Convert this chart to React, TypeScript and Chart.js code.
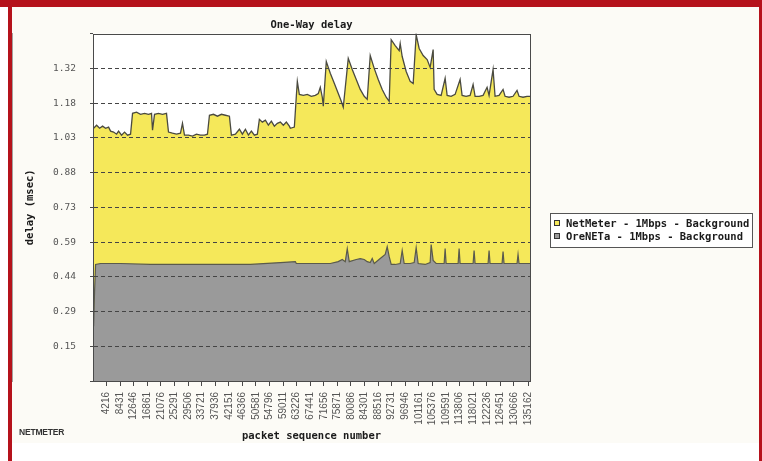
import React, { useEffect, useRef } from 'react';
import { Chart, registerables } from 'chart.js';

Chart.register(...registerables);

const chartTitle = 'One-Way delay';
const xAxisTitle = 'packet sequence number';
const yAxisTitle = 'delay (msec)';
const seriesLabels = ['NetMeter - 1Mbps - Background', 'OreNETa - 1Mbps - Background'];
const footerText = 'NETMETER';

const xTickValues = [
  4216, 8431, 12646, 16861, 21076, 25291, 29506, 33721, 37936, 42151, 46366, 50581,
  54796, 59011, 63226, 67441, 71656, 75871, 80086, 84301, 88516, 92731, 96946, 101161,
  105376, 109591, 113806, 118021, 122236, 126451, 130666, 135162,
];
const xMin = 0;
const xMax = 135650;

const yTickValues = [0, 0.1467, 0.2933, 0.44, 0.5867, 0.7333, 0.88, 1.0267, 1.1733, 1.32, 1.4667];
const yTickLabels = ['', '0.15', '0.29', '0.44', '0.59', '0.73', '0.88', '1.03', '1.18', '1.32', ''];

const netmeterSeq = [
  190, 1116, 2046, 2976, 3906, 4836, 5456, 6386, 7316, 7936, 8866, 9796, 10726, 11656,
  12276, 13516, 14756, 15996, 17236, 18166, 18476, 19096, 20336, 21576, 22816, 23436,
  24676, 25916, 27156, 27776, 28396, 29636, 30876, 32116, 33356, 34596, 35526, 36146,
  37386, 38626, 39866, 41106, 42346, 42966, 44206, 45446, 46376, 47306, 48236, 49166,
  50096, 51026, 51646, 52576, 53506, 54436, 55366, 56296, 57226, 58156, 59086, 60016,
  60946, 61256, 62500, 63116, 63426, 64046, 65286, 66526, 67766, 69006, 69936, 70556,
  71176, 71486, 72416, 73656, 74896, 76136, 77066, 77686, 79236, 80476, 81716, 82956,
  84196, 85126, 86056, 87296, 88536, 89776, 91016, 91946, 92566, 93806, 95046, 95356,
  95976, 97216, 98456, 99386, 100316, 101246, 102486, 103726, 104656, 105586, 105896,
  106826, 108066, 109306, 109926, 111166, 112406, 113956, 114576, 115816, 117056, 117986,
  118606, 119846, 121086, 122326, 122946, 124186, 124806, 126046, 127286, 127906, 129146,
  130386, 131626, 132246, 133486, 134726, 135650,
];
const netmeterDelay = [
  1.067, 1.080, 1.067, 1.076, 1.067, 1.072, 1.055, 1.051, 1.042, 1.055, 1.038, 1.051, 1.038, 1.042,
  1.130, 1.135, 1.126, 1.130, 1.126, 1.130, 1.059, 1.126, 1.130, 1.126, 1.130, 1.051,
  1.046, 1.042, 1.046, 1.088, 1.038, 1.038, 1.034, 1.042, 1.038, 1.038, 1.042, 1.122,
  1.126, 1.118, 1.126, 1.122, 1.118, 1.038, 1.042, 1.063, 1.042, 1.063, 1.038, 1.055,
  1.038, 1.042, 1.105, 1.093, 1.101, 1.080, 1.097, 1.076, 1.088, 1.093, 1.080, 1.093,
  1.076, 1.067, 1.072, 1.202, 1.265, 1.210, 1.206, 1.210, 1.202, 1.206, 1.214, 1.240,
  1.198, 1.160, 1.349, 1.299, 1.257, 1.214, 1.181, 1.156, 1.362, 1.315, 1.273, 1.231,
  1.202, 1.189, 1.374, 1.320, 1.273, 1.231, 1.198, 1.181, 1.441, 1.416, 1.395, 1.425,
  1.370, 1.307, 1.265, 1.256, 1.462, 1.404, 1.374, 1.357, 1.324, 1.399, 1.231,
  1.210, 1.206, 1.278, 1.206, 1.202, 1.210, 1.273, 1.206, 1.202, 1.206, 1.252,
  1.202, 1.202, 1.206, 1.240, 1.206, 1.315, 1.202, 1.206, 1.231, 1.202, 1.198,
  1.202, 1.227, 1.202, 1.198, 1.202, 1.202,
];

const orenetaSeq = [
  186, 496, 806, 2356, 8556, 17856, 33356, 48856, 58156, 62806, 63116, 73656, 76136,
  77376, 78306, 78926, 79546, 81716, 82956, 84196, 85126, 86056, 86676, 87296, 89156,
  90706, 91326, 91946, 92566, 93806, 95356, 95976, 96596, 98456, 99696, 100316, 100936,
  103106, 104656, 104966, 105586, 106516, 108996, 109306, 109616, 113336, 113646, 113956,
  117986, 118296, 118606, 122636, 122946, 123256, 126976, 127286, 127596, 131626, 131936,
  132246, 135650,
];
const orenetaDelay = [
  0.231, 0.382, 0.492, 0.496, 0.496, 0.492, 0.492, 0.492, 0.500, 0.504, 0.496, 0.496, 0.504,
  0.513, 0.504, 0.559, 0.504, 0.513, 0.517, 0.513, 0.504, 0.500, 0.517, 0.496, 0.517,
  0.534, 0.567, 0.525, 0.492, 0.492, 0.496, 0.551, 0.496, 0.496, 0.500, 0.563, 0.496,
  0.492, 0.500, 0.576, 0.509, 0.496, 0.496, 0.559, 0.496, 0.496, 0.559, 0.496,
  0.496, 0.551, 0.496, 0.496, 0.551, 0.496, 0.496, 0.546, 0.496, 0.496, 0.534,
  0.496, 0.496,
];

const YELLOW = '#f5e85a';
const GRAY = '#9a9a9a';
const LINE = '#4a4a40';
const AXIS = '#4a4a4a';
const MONO = '"DejaVu Sans Mono", monospace';

export default function App() {
  const canvasRef = useRef<HTMLCanvasElement>(null);

  useEffect(() => {
    const canvas = canvasRef.current;
    if (!canvas) return;

    const framePlugin = {
      id: 'frame',
      beforeDraw(chart: any) {
        const { ctx, chartArea: a } = chart;
        ctx.save();
        ctx.fillStyle = '#ffffff';
        ctx.fillRect(a.left, a.top, a.right - a.left, a.bottom - a.top);
        ctx.restore();
      },
      afterDraw(chart: any) {
        const { ctx, chartArea: a } = chart;
        ctx.save();
        ctx.strokeStyle = AXIS;
        ctx.lineWidth = 1;
        ctx.strokeRect(
          Math.round(a.left) + 0.5,
          Math.round(a.top) + 0.5,
          Math.round(a.right - a.left),
          Math.round(a.bottom - a.top)
        );
        ctx.restore();
      },
    };

    const legendPlugin = {
      id: 'boxedLegend',
      afterDraw(chart: any) {
        const { ctx, chartArea: a } = chart;
        const x0 = Math.round(a.right) + 20;
        const y0 = 206;
        const w = 202;
        const h = 34;
        ctx.save();
        ctx.fillStyle = '#ffffff';
        ctx.fillRect(x0, y0, w, h);
        ctx.strokeStyle = '#555555';
        ctx.lineWidth = 1;
        ctx.strokeRect(x0 + 0.5, y0 + 0.5, w, h);
        ctx.font = `bold 10.5px ${MONO}`;
        ctx.textBaseline = 'middle';
        ctx.textAlign = 'left';
        chart.data.datasets.forEach((ds: any, i: number) => {
          const cy = y0 + 10 + i * 13;
          ctx.fillStyle = ds.backgroundColor;
          ctx.fillRect(x0 + 4, cy - 3, 5, 5);
          ctx.strokeStyle = '#333333';
          ctx.strokeRect(x0 + 4.5, cy - 2.5, 5, 5);
          ctx.fillStyle = '#1a1a1a';
          ctx.fillText(ds.label, x0 + 16, cy + 1);
        });
        ctx.restore();
      },
    };

    const chart = new Chart(canvas, {
      type: 'line',
      data: {
        datasets: [
          {
            label: seriesLabels[0],
            data: netmeterSeq.map((x, i) => ({ x, y: netmeterDelay[i] })),
            backgroundColor: YELLOW,
            borderColor: LINE,
            borderWidth: 1.3,
            pointRadius: 0,
            tension: 0,
            fill: 'origin',
            order: 1,
          },
          {
            label: seriesLabels[1],
            data: orenetaSeq.map((x, i) => ({ x, y: orenetaDelay[i] })),
            backgroundColor: GRAY,
            borderColor: '#5a5a4c',
            borderWidth: 1.2,
            pointRadius: 0,
            tension: 0,
            fill: 'origin',
            order: 0,
          },
        ],
      },
      options: {
        animation: false,
        responsive: false,
        devicePixelRatio: 1,
        layout: { padding: { left: 0, right: 229, top: 0, bottom: 0 } },
        plugins: {
          legend: { display: false },
          tooltip: { enabled: false },
          title: {
            display: true,
            text: chartTitle,
            fullSize: false,
            color: '#1a1a1a',
            font: { family: MONO, size: 10.5, weight: 'bold' },
            padding: { top: 12, bottom: 2 },
          },
        },
        scales: {
          x: {
            type: 'linear',
            min: xMin,
            max: xMax,
            afterBuildTicks: (scale: any) => {
              scale.ticks = xTickValues.map((v) => ({ value: v }));
            },
            afterFit: (scale: any) => {
              scale.height = 62;
            },
            ticks: {
              autoSkip: false,
              minRotation: 90,
              maxRotation: 90,
              padding: 6,
              color: '#555555',
              font: { family: '"Liberation Sans", Arial, sans-serif', size: 10 },
              callback: (value: any) => String(value),
            },
            grid: {
              drawOnChartArea: false,
              tickLength: 5,
              tickColor: AXIS,
              color: AXIS,
            },
            border: { display: true, color: AXIS, width: 1 },
            title: {
              display: true,
              text: xAxisTitle,
              color: '#1a1a1a',
              font: { family: MONO, size: 10.5, weight: 'bold' },
              padding: { top: 0, bottom: 0 },
            },
          },
          y: {
            type: 'linear',
            min: yTickValues[0],
            max: yTickValues[yTickValues.length - 1],
            afterBuildTicks: (scale: any) => {
              scale.ticks = yTickValues.map((v) => ({ value: v }));
            },
            afterFit: (scale: any) => {
              scale.width = 81;
            },
            ticks: {
              autoSkip: false,
              padding: 14,
              color: '#555555',
              font: { family: MONO, size: 9.5 },
              callback: (_v: any, index: number) => yTickLabels[index],
            },
            grid: {
              z: 1,
              tickLength: 3,
              tickColor: AXIS,
              color: (ctx: any) =>
                ctx.index === 0 || ctx.index === yTickValues.length - 1 ? 'rgba(0,0,0,0)' : '#444444',
              lineWidth: 1,
            },
            border: { display: true, color: AXIS, width: 1, dash: [4, 3] },
            title: {
              display: true,
              text: yAxisTitle,
              color: '#1a1a1a',
              font: { family: MONO, size: 10.5, weight: 'bold' },
              padding: { top: 12, bottom: 0 },
            },
          },
        },
      },
      plugins: [framePlugin, legendPlugin],
    } as any);

    return () => chart.destroy();
  }, []);

  return (
    <div
      style={{
        position: 'fixed',
        left: 0,
        top: 0,
        width: 762,
        height: 461,
        background: '#ffffff',
        overflow: 'hidden',
      }}
    >
      <div style={{ position: 'absolute', left: 0, top: 0, width: 762, height: 7, background: '#b5121b' }} />
      <div style={{ position: 'absolute', left: 8, top: 7, width: 4, height: 454, background: '#b5121b' }} />
      <div style={{ position: 'absolute', left: 759, top: 7, width: 3, height: 454, background: '#b5121b' }} />
      <div style={{ position: 'absolute', left: 12, top: 7, width: 747, height: 436, background: '#fcfbf6' }} />
      <canvas
        ref={canvasRef}
        width={747}
        height={436}
        style={{ position: 'absolute', left: 12, top: 7, width: 747, height: 436 }}
      />
      <div
        style={{
          position: 'absolute',
          left: 19,
          top: 426,
          fontFamily: '"Liberation Sans", Arial, sans-serif',
          fontSize: 8.5,
          fontWeight: 'bold',
          color: '#333333',
          letterSpacing: -0.2,
          lineHeight: '12px',
        }}
      >
        {footerText}
      </div>
    </div>
  );
}
